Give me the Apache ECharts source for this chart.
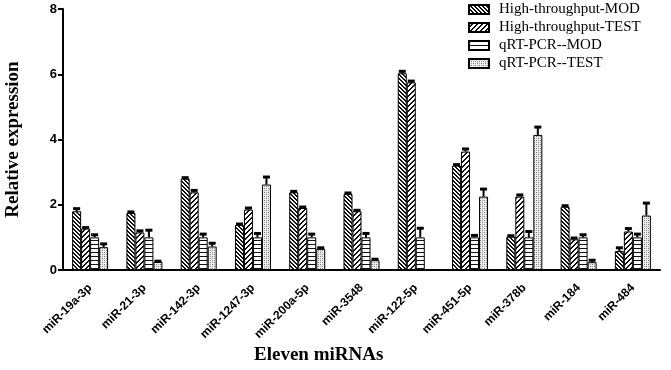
<!DOCTYPE html>
<html>
<head>
<meta charset="utf-8">
<script src="https://cdn.jsdelivr.net/npm/echarts@6/dist/echarts.min.js"></script>
<style>
  html, body { margin: 0; padding: 0; background: #fff; }
  #main-chart { width: 671px; height: 370px; }
</style>
</head>
<body>
<div id="main-chart"></div>
<script>
// categories and values
var mirnas = ['miR-19a-3p', 'miR-21-3p', 'miR-142-3p', 'miR-1247-3p', 'miR-200a-5p',
    'miR-3548', 'miR-122-5p', 'miR-451-5p', 'miR-378b', 'miR-184', 'miR-484'];
var seriesNames = ['High-throughput-MOD', 'High-throughput-TEST', 'qRT-PCR--MOD', 'qRT-PCR--TEST'];

var htMod = [1.8, 1.75, 2.8, 1.38, 2.38, 2.33, 6.03, 3.2, 1.02, 1.94, 0.58];
var htModErr = [0.08, 0.03, 0.03, 0.03, 0.03, 0.03, 0.06, 0.03, 0.03, 0.03, 0.1];
var htTest = [1.27, 1.15, 2.38, 1.85, 1.9, 1.8, 5.75, 3.63, 2.25, 0.94, 1.18];
var htTestErr = [0.03, 0.05, 0.06, 0.05, 0.03, 0.03, 0.04, 0.08, 0.05, 0.04, 0.09];
var qMod = [1, 1, 1, 1, 1, 1, 1, 1, 1, 1, 1];
var qModErr = [0.08, 0.22, 0.1, 0.12, 0.1, 0.12, 0.28, 0.06, 0.18, 0.08, 0.1];
var qTest = [0.7, 0.25, 0.72, 2.62, 0.65, 0.3, null, 2.25, 4.14, 0.24, 1.67];
var qTestErr = [0.1, 0.02, 0.1, 0.23, 0.03, 0.03, null, 0.23, 0.24, 0.06, 0.38];

var yTicks = { min: 0, max: 8, interval: 2 };

document.addEventListener('DOMContentLoaded', function () {
    var myChart = echarts.init(document.getElementById('main-chart'));

    // small canvas tiles used as fill patterns
    function makePattern(kind) {
        var n = kind === 'back' ? 4 : (kind === 'fwd' ? 5 : 4);
        var c = document.createElement('canvas');
        c.width = n; c.height = n;
        var ctx = c.getContext('2d');
        ctx.fillStyle = kind === 'dots' ? '#ececec' : '#fff';
        ctx.fillRect(0, 0, n, n);
        ctx.fillStyle = '#111';
        for (var i = 0; i < n; i++) {
            if (kind === 'back') {
                ctx.fillRect(i, i, 1, 1);
                ctx.fillRect((i + 1) % n, i, 1, 1);
            } else if (kind === 'fwd') {
                ctx.fillRect(n - 1 - i, i, 1, 1);
                ctx.fillRect((2 * n - 2 - i) % n, i, 1, 1);
            }
        }
        if (kind === 'horiz') {
            ctx.fillRect(0, 0, n, 1);
        }
        if (kind === 'dots') {
            ctx.fillStyle = '#777';
            ctx.fillRect(0, 0, 1, 1);
            ctx.fillRect(2, 2, 1, 1);
            ctx.fillStyle = '#aaa';
            ctx.fillRect(2, 0, 1, 1);
            ctx.fillRect(0, 2, 1, 1);
        }
        return { image: c, repeat: 'repeat' };
    }

    var patterns = [makePattern('back'), makePattern('fwd'), makePattern('horiz'), makePattern('dots')];
    var values = [htMod, htTest, qMod, qTest];
    var errors = [htModErr, htTestErr, qModErr, qTestErr];
    var barWidth = 9;

    var series = [];
    values.forEach(function (vals, s) {
        series.push({
            name: seriesNames[s],
            type: 'bar',
            data: vals,
            barWidth: barWidth,
            barGap: '0%',
            itemStyle: { color: patterns[s], borderColor: '#000', borderWidth: 1 },
            z: 2
        });
    });

    // error bars drawn on top of each bar
    values.forEach(function (vals, s) {
        var errData = vals.map(function (v, i) {
            return v == null ? [i, '-', '-'] : [i, v, errors[s][i]];
        });
        series.push({
            type: 'custom',
            name: 'err' + s,
            data: errData,
            z: 5,
            silent: true,
            renderItem: function (params, api) {
                var v = api.value(1);
                if (isNaN(v)) return;
                var base = api.coord([api.value(0), v]);
                var top = api.coord([api.value(0), v + api.value(2)]);
                var x = base[0] + (s - 1.5) * barWidth;
                return {
                    type: 'group',
                    children: [
                        { type: 'line', shape: { x1: x, y1: base[1], x2: x, y2: top[1] },
                          style: { stroke: '#000', lineWidth: 2 } },
                        { type: 'rect', shape: { x: x - 3.5, y: top[1] - 1.5, width: 7, height: 3 },
                          style: { fill: '#000' } }
                    ]
                };
            }
        });
    });

    var option = {
        animation: false,
        title: {
            text: 'Eleven miRNAs',
            left: 254,
            top: 346,
            padding: 0,
            textStyle: { fontFamily: 'Liberation Serif', fontWeight: 'bold', fontSize: 19, color: '#000' }
        },
        legend: {
            data: seriesNames,
            orient: 'vertical',
            icon: 'rect',
            left: 468,
            top: 2,
            itemWidth: 20,
            itemHeight: 9,
            itemGap: 3,
            padding: 0,
            textStyle: { fontFamily: 'Liberation Serif', fontSize: 15, color: '#000', padding: [0, 0, 0, 5] }
        },
        grid: { left: 63, right: 11, top: 9, bottom: 100, containLabel: false, outerBoundsMode: 'none' },
        xAxis: {
            type: 'category',
            data: mirnas,
            axisLine: { lineStyle: { color: '#000', width: 2 } },
            axisTick: { alignWithLabel: true, length: 5, lineStyle: { color: '#000', width: 2 } },
            axisLabel: {
                rotate: 45,
                margin: 16,
                fontFamily: 'Liberation Sans',
                fontWeight: 'bold',
                fontSize: 12,
                color: '#000'
            }
        },
        yAxis: {
            type: 'value',
            min: yTicks.min,
            max: yTicks.max,
            interval: yTicks.interval,
            name: 'Relative expression',
            nameLocation: 'middle',
            nameGap: 40,
            nameTextStyle: { fontFamily: 'Liberation Serif', fontWeight: 'bold', fontSize: 19, color: '#000' },
            splitLine: { show: false },
            axisLine: { show: true, lineStyle: { color: '#000', width: 2 } },
            axisTick: { show: true, length: 5, lineStyle: { color: '#000', width: 2 } },
            axisLabel: { fontFamily: 'Liberation Sans', fontWeight: 'bold', fontSize: 13, color: '#000', margin: 6 }
        },
        series: series
    };

    myChart.setOption(option);
});
</script>
</body>
</html>
